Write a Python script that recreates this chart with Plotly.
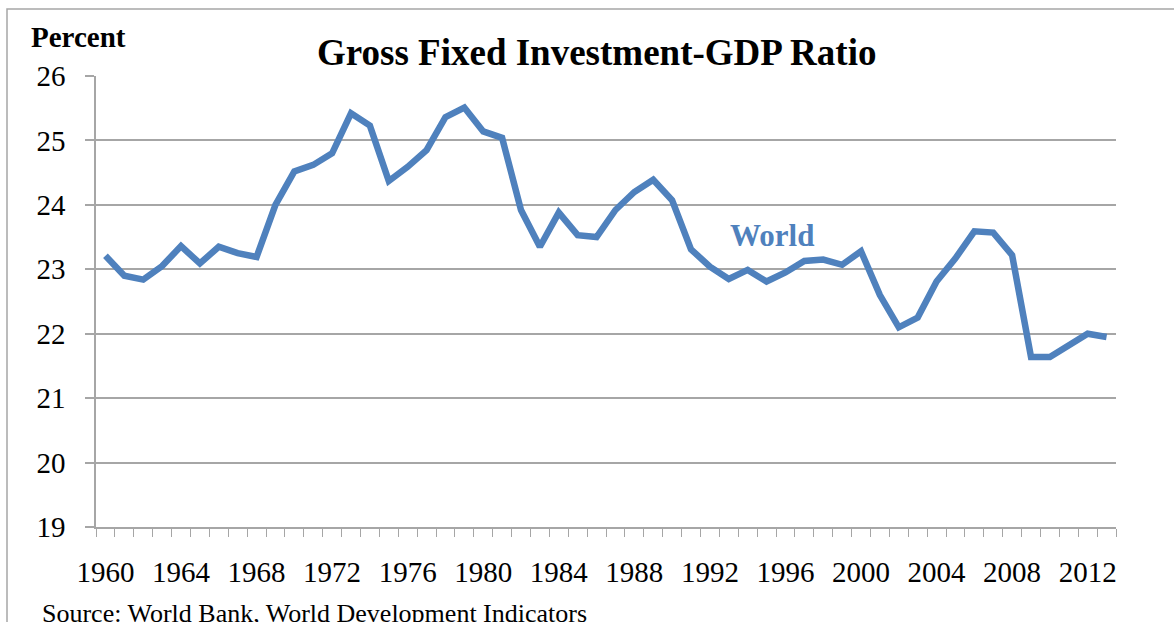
import plotly.graph_objects as go

years = list(range(1960, 2014))
world = [23.21, 22.90, 22.84, 23.05, 23.36, 23.09, 23.35, 23.25, 23.19, 24.00,
         24.52, 24.62, 24.80, 25.42, 25.23, 24.37, 24.59, 24.85, 25.36, 25.51,
         25.14, 25.04, 23.92, 23.35, 23.88, 23.53, 23.50, 23.92, 24.20, 24.39,
         24.07, 23.31, 23.04, 22.85, 22.99, 22.81, 22.95, 23.13, 23.15, 23.07,
         23.28, 22.60, 22.10, 22.25, 22.81, 23.17, 23.59, 23.57, 23.22, 21.64,
         21.64, 21.82, 22.00, 21.95]
x_tick_vals = list(range(1960, 2014, 4))
x_tick_text = [str(v) for v in x_tick_vals]
y_tick_vals = list(range(19, 27))

title_text = "Gross Fixed Investment-GDP Ratio"
y_unit = "Percent"
series_label = "World"
source_text = "Source: World Bank, World Development Indicators"

serif = "Liberation Serif, Times New Roman, serif"
grid = "#A6A6A6"
blue = "#4F81BD"

fig = go.Figure()
fig.add_trace(go.Scatter(x=years, y=world, mode="lines",
                         line=dict(color=blue, width=6.5), showlegend=False,
                         hoverinfo="x+y"))

fig.update_layout(
    width=1174, height=622,
    margin=dict(l=96, r=58, t=76, b=95),
    paper_bgcolor="white", plot_bgcolor="white",
    font=dict(family=serif, color="black"),
    showlegend=False,
)
fig.update_xaxes(
    range=[1959.5, 2013.5], tickvals=x_tick_vals, ticktext=x_tick_text,
    ticks="", showgrid=False, zeroline=False,
    showline=True, linecolor=grid, linewidth=1.5,
    tickfont=dict(family=serif, size=29, color="black"),
    ticklabelstandoff=18,
    minor=dict(ticks="outside", tick0=1959.5, dtick=1, ticklen=8,
               tickcolor=grid, tickwidth=1.2, showgrid=False),
)
fig.update_yaxes(
    range=[19, 26], tickvals=y_tick_vals, ticks="outside", ticklen=9,
    tickcolor=grid, tickwidth=1.5,
    showgrid=True, gridcolor=grid, gridwidth=1.5, zeroline=False,
    showline=True, linecolor=grid, linewidth=1.5,
    tickfont=dict(family=serif, size=29, color="black"),
    ticklabelstandoff=14,
)

# outer frame (only top and left visible in the reference crop)
fig.add_shape(type="rect", xref="paper", yref="paper",
              x0=(7 - 96) / 1020, x1=1.2, y0=-0.4, y1=(527 - 9) / 451,
              line=dict(color=grid, width=1.5), layer="below")

fig.add_annotation(text="<b>" + title_text + "</b>", xref="paper", yref="paper",
                   x=(596 - 96) / 1020, y=(527 - 52) / 451, showarrow=False,
                   xanchor="center", yanchor="middle",
                   font=dict(family=serif, size=37, color="black"))
fig.add_annotation(text="<b>" + y_unit + "</b>", xref="paper", yref="paper",
                   x=(29 - 96) / 1020, y=(527 - 37) / 451, showarrow=False,
                   xanchor="left", yanchor="middle",
                   font=dict(family=serif, size=29, color="black"))
fig.add_annotation(text="<b>" + series_label + "</b>", xref="x", yref="y",
                   x=1995.3, y=23.53, showarrow=False,
                   xanchor="center", yanchor="middle",
                   font=dict(family=serif, size=31, color=blue))
fig.add_annotation(text=source_text, xref="paper", yref="paper",
                   x=(40 - 96) / 1020, y=(527 - 613) / 451, showarrow=False,
                   xanchor="left", yanchor="middle",
                   font=dict(family=serif, size=26, color="black"))

fig.write_html(
    "out.html",
    config={"displayModeBar": False},
    post_script="document.body.style.margin='0';document.body.style.overflow='hidden';",
)
